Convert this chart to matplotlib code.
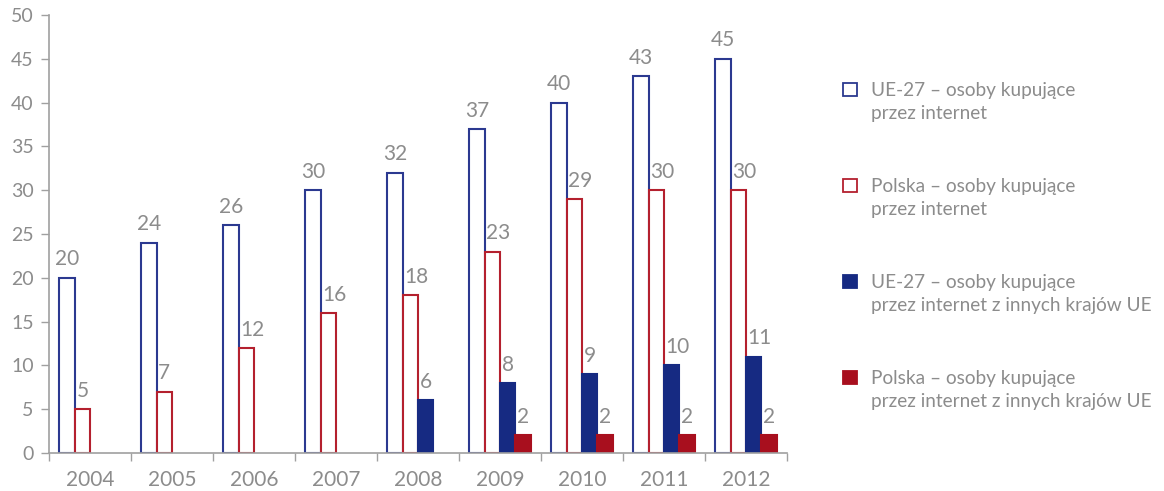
import matplotlib
matplotlib.use("Agg")
import matplotlib.pyplot as plt
import numpy as np
from matplotlib.patches import Rectangle

years = ["2004", "2005", "2006", "2007", "2008", "2009", "2010", "2011", "2012"]
ue_kup = [20, 24, 26, 30, 32, 37, 40, 43, 45]
pl_kup = [5, 7, 12, 16, 18, 23, 29, 30, 30]
ue_zagr = [None, None, None, None, 6, 8, 9, 10, 11]
pl_zagr = [None, None, None, None, None, 2, 2, 2, 2]
labels = [
    "UE-27 – osoby kupujące\nprzez internet",
    "Polska – osoby kupujące\nprzez internet",
    "UE-27 – osoby kupujące\nprzez internet z innych krajów UE",
    "Polska – osoby kupujące\nprzez internet z innych krajów UE",
]

plt.rcParams['font.family'] = ['Lato', 'DejaVu Sans']
GRAY = '#8c8c8c'
AX = '#a0a0a0'
BLUE = '#2b3990'
RED = '#b4202e'
DBLUE = '#162a82'
DRED = '#a80f1e'

W, H = 1164, 491
fig = plt.figure(figsize=(W / 100, H / 100), dpi=100)
ax = fig.add_axes([49 / W, 1 - 453 / H, (787 - 49) / W, (453 - 15) / H])

x = np.arange(len(years))
bw = 0.187
offs = [-1.5 * bw, -0.5 * bw, 0.5 * bw, 1.5 * bw]
series = [(ue_kup, 'white', BLUE), (pl_kup, 'white', RED),
          (ue_zagr, DBLUE, DBLUE), (pl_zagr, DRED, DRED)]
for k, ((vals, fc, ec), off) in enumerate(zip(series, offs)):
    for xi, v in zip(x, vals):
        if v is None:
            continue
        ax.bar(xi + off, v, width=bw, facecolor=fc, edgecolor=ec, linewidth=1.5, zorder=2)
        if k == 0:
            ax.text(xi + off, v + 0.95, str(v), ha='center', va='bottom', fontsize=15,
                    color=GRAY, clip_on=False)
        else:
            ax.text(xi + off - bw / 2 + 0.02, v + 0.95, str(v), ha='left', va='bottom',
                    fontsize=15, color=GRAY, clip_on=False)

ax.set_xlim(-0.5, len(years) - 0.5)
ax.set_ylim(0, 50)
ax.set_yticks(np.arange(0, 51, 5))
ax.tick_params(axis='y', colors=AX, labelcolor=GRAY, labelsize=14, length=6, width=1, pad=5)
ax.set_xticks(np.arange(-0.5, len(years) + 0.5, 1))
ax.set_xticklabels([])
ax.set_xticks(x, minor=True)
ax.set_xticklabels(years, minor=True)
ax.tick_params(axis='x', which='major', colors=AX, length=6, width=1)
ax.tick_params(axis='x', which='minor', length=0, labelcolor=GRAY, labelsize=15, pad=12)
for s in ['top', 'right']:
    ax.spines[s].set_visible(False)
for s in ['left', 'bottom']:
    ax.spines[s].set_color(AX)
    ax.spines[s].set_linewidth(1.2)

# legend
leg_styles = [('white', BLUE), ('white', RED), (DBLUE, DBLUE), (DRED, DRED)]
for i, (lab, (fc, ec)) in enumerate(zip(labels, leg_styles)):
    base = 96 + i * 96
    fig.patches.append(Rectangle((843 / W, 1 - base / H), 14 / W, 13 / H,
                                 transform=fig.transFigure, facecolor=fc,
                                 edgecolor=ec, linewidth=1.3))
    fig.text(871 / W, 1 - (base - 14) / H, lab, ha='left', va='top',
             fontsize=13.7, color=GRAY, linespacing=1.4)

fig.savefig('out.png', dpi=100)
